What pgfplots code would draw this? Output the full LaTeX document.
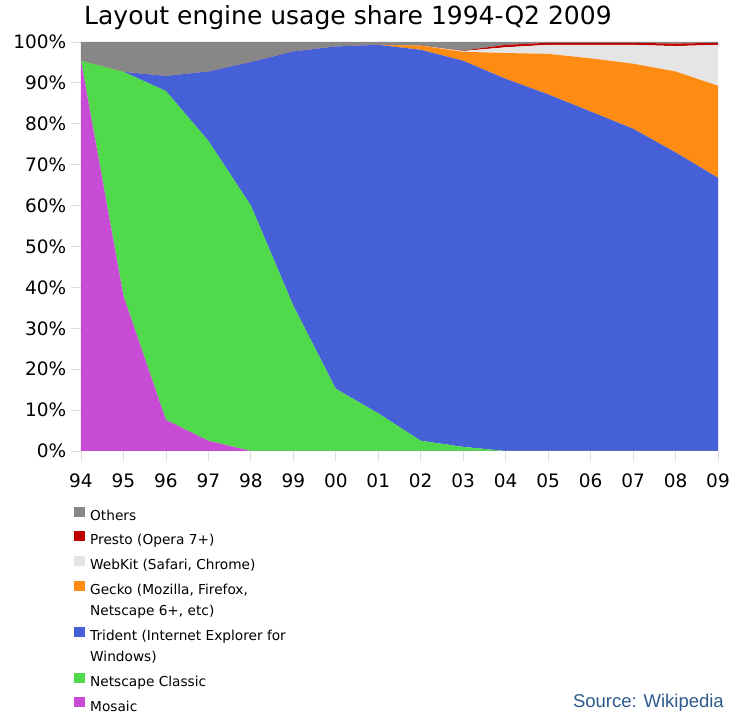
\documentclass[border=0pt]{standalone}
\usepackage{pgfplots}
\pgfplotsset{compat=1.18}
\usepackage{pgfplotstable}
\usepackage{fontspec}
\setmainfont{DejaVu Sans}
\newfontfamily\srcfont{Liberation Sans}
\definecolor{cothers}{HTML}{878787}
\definecolor{cpresto}{HTML}{BF0000}
\definecolor{cwebkit}{HTML}{E5E5E5}
\definecolor{cgecko}{HTML}{FE8B12}
\definecolor{ctrident}{HTML}{4661D8}
\definecolor{cnetscape}{HTML}{50DA4B}
\definecolor{cmosaic}{HTML}{C84BD6}
\definecolor{csource}{HTML}{2C5A8C}
\definecolor{ctick}{HTML}{DCDCDC}

\pgfplotstableread{
x mosaic netscape trident gecko webkit presto others
0 95.4 0 0 0 0 0 4.6
1 37.9 54.8 0 0 0 0 7.3
2 7.6 80.4 3.7 0 0 0 8.3
3 2.5 73.3 17.0 0 0 0 7.2
4 0 60.0 35.1 0 0 0 4.9
5 0 35.5 62.2 0 0 0 2.3
6 0 15.2 83.7 0 0 0 1.1
7 0 9.2 90.1 0 0 0 0.7
8 0 2.5 95.6 1.0 0 0 0.9
9 0 1.0 94.4 2.2 0.2 0.1 2.1
10 0 0 91.0 6.3 1.4 0.6 0.7
11 0 0 87.2 9.9 2.2 0.5 0.2
12 0 0 83.0 13.0 3.3 0.5 0.2
13 0 0 78.8 15.9 4.6 0.5 0.2
14 0 0 73.0 19.8 6.2 0.6 0.4
15 0 0 66.8 22.5 10.0 0.5 0.2
}\shares

\begin{document}
\begin{tikzpicture}
\useasboundingbox (0pt,0pt) rectangle (739pt,720pt);
\begin{axis}[
  at={(81pt,269pt)}, anchor=south west,
  scale only axis, width=637pt, height=409pt,
  xmin=0, xmax=15, ymin=0, ymax=100,
  stack plots=y,
  axis line style={draw=none},
  tick align=outside,
  xtick pos=bottom, ytick pos=left,
  major tick length=10.5pt,
  tick style={color=ctick, line width=0.8pt},
  xtick={0,...,15},
  xticklabels={94,95,96,97,98,99,00,01,02,03,04,05,06,07,08,09},
  ytick={0,10,...,100},
  yticklabels={0\%,10\%,20\%,30\%,40\%,50\%,60\%,70\%,80\%,90\%,100\%},
  /pgf/number format/assume math mode=true,
  tick label style={font=\fontsize{18.5}{22}\selectfont, inner sep=0pt},
  yticklabel style={xshift=-4pt},
  xticklabel style={yshift=-12pt},
  clip=true,
]
\addplot[draw=none, fill=cmosaic] table[x=x, y=mosaic] {\shares} \closedcycle;
\addplot[draw=none, fill=cnetscape] table[x=x, y=netscape] {\shares} \closedcycle;
\addplot[draw=none, fill=ctrident] table[x=x, y=trident] {\shares} \closedcycle;
\addplot[draw=none, fill=cgecko] table[x=x, y=gecko] {\shares} \closedcycle;
\addplot[draw=none, fill=cwebkit] table[x=x, y=webkit] {\shares} \closedcycle;
\addplot[draw=none, fill=cpresto] table[x=x, y=presto] {\shares} \closedcycle;
\addplot[draw=none, fill=cothers] table[x=x, y=others] {\shares} \closedcycle;
\end{axis}

% title
\node[anchor=base west, inner sep=0pt, font=\fontsize{25}{30}\selectfont] at (84pt,695pt) {Layout engine usage share 1994-Q2 2009};

% legend
\begin{scope}[every node/.style={anchor=base west, inner sep=0pt, font=\fontsize{13.7}{16}\selectfont}]
\fill[cothers]   (74pt,213pt) rectangle ++(11pt,-10pt);
\node at (90pt,199pt) {Others};
\fill[cpresto]   (74pt,189pt) rectangle ++(11pt,-10pt);
\node at (90pt,175pt) {Presto (Opera 7+)};
\fill[cwebkit]   (74pt,164.3pt) rectangle ++(11pt,-10pt);
\node at (90pt,150pt) {WebKit (Safari, Chrome)};
\fill[cgecko]    (74pt,139.3pt) rectangle ++(11pt,-10pt);
\node at (90pt,125pt) {Gecko (Mozilla, Firefox,};
\node at (90pt,104.3pt) {Netscape 6+, etc)};
\fill[ctrident]  (74pt,93.3pt) rectangle ++(11pt,-10pt);
\node at (90pt,79pt) {Trident (Internet Explorer for};
\node at (90pt,58.3pt) {Windows)};
\fill[cnetscape] (74pt,47.3pt) rectangle ++(11pt,-10pt);
\node at (90pt,33.3pt) {Netscape Classic};
\fill[cmosaic]   (74pt,22.7pt) rectangle ++(11pt,-10pt);
\node at (90pt,8.3pt) {Mosaic};
\end{scope}

% source
\node[anchor=base east, inner sep=0pt, text=csource, font=\srcfont\fontsize{18.5}{22}\selectfont] at (724pt,12.7pt) {Source: Wikipedia};
\end{tikzpicture}
\end{document}
